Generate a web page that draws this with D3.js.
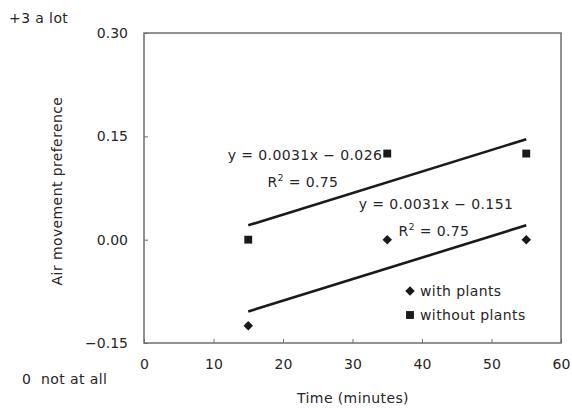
<!DOCTYPE html>
<html>
<head>
<meta charset="utf-8">
<script src="https://cdn.jsdelivr.net/npm/d3@7"></script>
<style>
  html, body { margin: 0; padding: 0; background: #fff; }
  svg { display: block; font-family: "DejaVu Sans", "Liberation Sans", sans-serif; }
</style>
</head>
<body>
<svg id="chart" width="572" height="409"></svg>
<script>
// Air movement preference over time, with and without plants
const times = [15, 35, 55];
const withPlants = [-0.125, 0, 0];
const withoutPlants = [0, 0.125, 0.125];
const xTicks = [0, 10, 20, 30, 40, 50, 60];
const yTicks = [-0.15, 0, 0.15, 0.30];
const seriesNames = ["with plants", "without plants"];

const svg = d3.select("#chart");
const W = 572, H = 409;
const m = { left: 144, right: 11, top: 33, bottom: 66 };

const x = d3.scaleLinear().domain([0, 60]).range([m.left, W - m.right]);
const y = d3.scaleLinear().domain([-0.15, 0.30]).range([H - m.bottom, m.top]);

const ink = "#1a1a1a";
const axisInk = "#6e6e6e";
const textInk = "#262626";
const fs = 14;
const ls = 0.4;

// plot frame
svg.append("rect")
  .attr("x", x(0)).attr("y", y(0.30))
  .attr("width", x(60) - x(0)).attr("height", y(-0.15) - y(0.30))
  .attr("fill", "none").attr("stroke", axisInk).attr("stroke-width", 1.5);

// x axis: inward ticks, labels set lower
const xAxis = d3.axisBottom(x).tickValues(xTicks).tickSize(-4).tickPadding(16)
  .tickFormat(d3.format("d"));
const gx = svg.append("g").attr("transform", `translate(0,${y(-0.15)})`).call(xAxis);
gx.select(".domain").remove();
gx.selectAll(".tick line").attr("stroke", axisInk).attr("stroke-width", 1);
gx.selectAll(".tick text").attr("fill", textInk).attr("font-size", fs)
  .attr("font-family", "DejaVu Sans");

// y axis: inward ticks
const yAxis = d3.axisLeft(y).tickValues(yTicks).tickSize(-4).tickPadding(16)
  .tickFormat(d3.format(".2f"));
const gy = svg.append("g").attr("transform", `translate(${x(0)},0)`).call(yAxis);
gy.select(".domain").remove();
gy.selectAll(".tick line").attr("stroke", axisInk).attr("stroke-width", 1);
gy.selectAll(".tick text").attr("fill", textInk).attr("font-size", fs)
  .attr("font-family", "DejaVu Sans")
  .text(d => d < 0 ? "\u22120.15" : d3.format(".2f")(d));

// least-squares trend lines
function fit(xs, ys) {
  const mx = d3.mean(xs), my = d3.mean(ys);
  let sxy = 0, sxx = 0;
  xs.forEach((v, i) => { sxy += (v - mx) * (ys[i] - my); sxx += (v - mx) ** 2; });
  const b = sxy / sxx;
  return { b, a: my - b * mx };
}
const fits = [fit(times, withPlants), fit(times, withoutPlants)];
const x0 = d3.min(times), x1 = d3.max(times);
fits.forEach(f => {
  svg.append("line")
    .attr("x1", x(x0)).attr("y1", y(f.a + f.b * x0))
    .attr("x2", x(x1)).attr("y2", y(f.a + f.b * x1))
    .attr("stroke", ink).attr("stroke-width", 2.6);
});

// markers
const diamond = d3.symbol().type(d3.symbolDiamond2).size(58);
const square = d3.symbol().type(d3.symbolSquare).size(62);
svg.append("g").selectAll("path").data(times.map((t, i) => [t, withPlants[i]]))
  .join("path").attr("d", diamond)
  .attr("transform", d => `translate(${x(d[0])},${y(d[1])})`).attr("fill", ink);
svg.append("g").selectAll("path").data(times.map((t, i) => [t, withoutPlants[i]]))
  .join("path").attr("d", square)
  .attr("transform", d => `translate(${x(d[0])},${y(d[1])})`).attr("fill", ink);

// equation labels
function eqLabel(f, cx, cy) {
  const g = svg.append("g").attr("fill", textInk).attr("font-size", fs)
    .attr("letter-spacing", ls).attr("text-anchor", "middle");
  g.append("text").attr("x", cx).attr("y", cy)
    .text(`y = ${f.b.toFixed(4)}x \u2212 ${Math.abs(f.a).toFixed(3)}`);
  const r = g.append("text").attr("x", cx - 2).attr("y", cy + 27);
  r.append("tspan").text("R");
  r.append("tspan").attr("dy", -6).attr("font-size", 9).text("2");
  r.append("tspan").attr("dy", 6).text(" = 0.75");
}
eqLabel(fits[1], 305, 160);
eqLabel(fits[0], 436, 209);

// legend
const lg = svg.append("g").attr("font-size", fs).attr("fill", textInk).attr("letter-spacing", ls);
lg.append("path").attr("d", diamond).attr("transform", "translate(410,291)").attr("fill", ink);
lg.append("text").attr("x", 420).attr("y", 296).text(seriesNames[0]);
lg.append("path").attr("d", square).attr("transform", "translate(410,315)").attr("fill", ink);
lg.append("text").attr("x", 420).attr("y", 320).text(seriesNames[1]);

// axis titles and scale anchors
svg.append("text").attr("x", 353).attr("y", 403).attr("text-anchor", "middle")
  .attr("font-size", fs).attr("letter-spacing", ls).attr("fill", textInk).text("Time (minutes)");
svg.append("text").attr("transform", "translate(62,191) rotate(-90)").attr("text-anchor", "middle")
  .attr("font-size", fs).attr("letter-spacing", ls).attr("fill", textInk).text("Air movement preference");
svg.append("text").attr("x", 9).attr("y", 23).attr("font-size", fs).attr("letter-spacing", ls)
  .attr("fill", textInk).text("+3 a lot");
svg.append("text").attr("x", 22).attr("y", 384).attr("font-size", fs).attr("letter-spacing", ls)
  .attr("fill", textInk).style("white-space", "pre").text("0  not at all");
</script>
</body>
</html>
